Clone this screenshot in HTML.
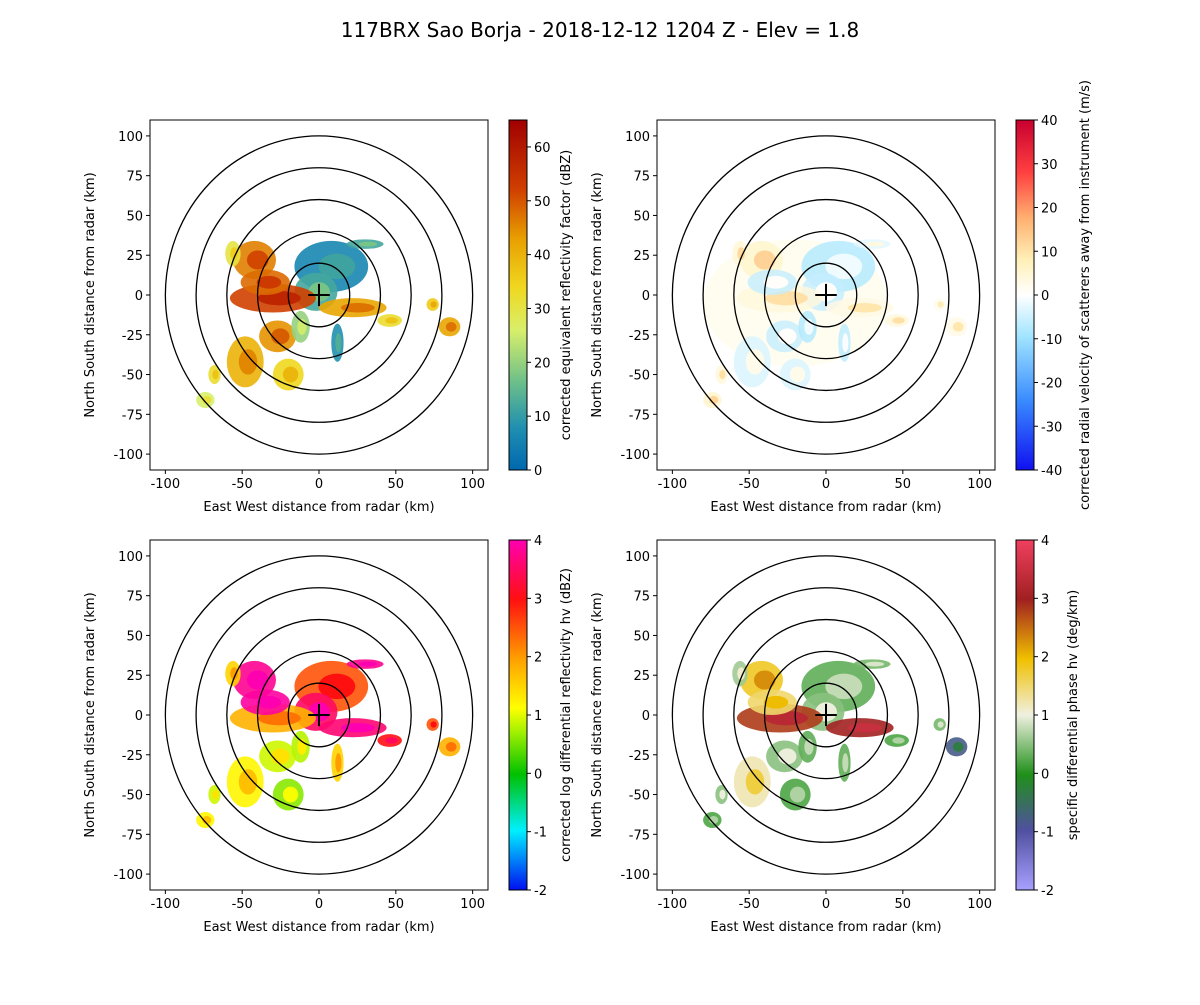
<!DOCTYPE html>
<html><head><meta charset="utf-8"><style>
body{margin:0;background:#fff}
svg text{font-family:"DejaVu Sans","Liberation Sans",sans-serif;fill:#000}
</style></head><body>
<svg id="fig" width="1200" height="1000" viewBox="0 0 1200 1000" xmlns="http://www.w3.org/2000/svg">
<rect width="1200" height="1000" fill="#fff"/>
<text x="600" y="37" font-size="20" text-anchor="middle">117BRX Sao Borja - 2018-12-12 1204 Z -  Elev = 1.8</text>
</svg>
<script>
// echo blob data: x km, y km, rx km, ry km
const blobX=[8,-2,-30,-42,-48,-27,22,-56,-74,-68,85,74,46,-12,30,-35,-20,12];
const blobY=[18,2,-2,22,-42,-26,-8,26,-66,-50,-20,-6,-16,-20,32,8,-50,-30];
const blobRX=[24,14,28,14,12,12,22,5,6,4,7,4,8,6,12,16,10,4];
const blobRY=[16,12,9,12,16,10,6,8,5,6,6,4,4,10,3,8,10,12];
const reflVals=[6,12,52,46,40,44,42,30,26,32,42,36,32,20,12,48,34,8];
const velVals=[-8,-6,4,6,-4,-6,3,5,6,4,3,2,4,-8,-3,-6,-4,-7];
const zdrVals=[2.5,3.5,1.8,3.8,1.2,0.9,3.6,1.5,1.2,0.9,1.8,2.5,3.0,0.8,3.8,3.9,0.6,1.5];
const kdpVals=[0.3,0.5,2.8,1.8,1.2,0.5,3.0,0.6,0.2,0.5,-0.8,0.4,0.2,0.3,0.4,1.5,0.2,0.3];
const xTicks=[-100,-50,0,50,100];
const yTicks=[-100,-75,-50,-25,0,25,50,75,100];
const rings=[20,40,60,80,100];
const reflTicks=[0,10,20,30,40,50,60];
const velTicks=[-40,-30,-20,-10,0,10,20,30,40];
const zdrTicks=[-2,-1,0,1,2,3,4];
const kdpTicks=[-2,-1,0,1,2,3,4];

const NS="http://www.w3.org/2000/svg";
const svg=document.getElementById('fig');
function mk(tag,attrs,parent){const e=document.createElementNS(NS,tag);for(const k in attrs)e.setAttribute(k,attrs[k]);(parent||svg).appendChild(e);return e;}
function hex(c){return [parseInt(c.slice(1,3),16),parseInt(c.slice(3,5),16),parseInt(c.slice(5,7),16)];}
function cmap(stops,t){t=Math.max(0,Math.min(1,t));for(let i=0;i<stops.length-1;i++){const[a,ca]=stops[i],[b,cb]=stops[i+1];if(t<=b){const f=(t-a)/(b-a||1);const A=hex(ca),B=hex(cb);return `rgb(${A.map((v,j)=>Math.round(v+(B[j]-v)*f)).join(',')})`;}}return stops[stops.length-1][1];}
const CM={
refl:[[0,'#0068b0'],[0.12,'#1f8fb0'],[0.25,'#6cbf8a'],[0.4,'#d8ef6a'],[0.52,'#f0d820'],[0.66,'#e8a000'],[0.8,'#d04000'],[1,'#a00000']],
vel:[[0,'#1010f0'],[0.2,'#3a8cff'],[0.38,'#a0e4ff'],[0.5,'#ffffff'],[0.6,'#fff0b8'],[0.72,'#ffb070'],[0.85,'#ff4040'],[1,'#c80030']],
zdr:[[0,'#0010f0'],[0.17,'#00f0ff'],[0.33,'#00c000'],[0.45,'#a0f000'],[0.52,'#ffff00'],[0.66,'#ffa000'],[0.83,'#ff1010'],[1,'#ff00b0']],
kdp:[[0,'#a8a0ff'],[0.17,'#5050a0'],[0.33,'#20901a'],[0.5,'#f0f0e0'],[0.66,'#f0c000'],[0.83,'#a02020'],[1,'#f04060']]
};
const panels=[
 {x0:150,y0:120,cb:'refl',min:0,max:65,ticks:reflTicks,vals:reflVals,label:'corrected equivalent reflectivity factor (dBZ)',n:'reflectivity'},
 {x0:657,y0:120,cb:'vel',min:-40,max:40,ticks:velTicks,vals:velVals,label:'corrected radial velocity of scatterers away from instrument (m/s)',n:'velocity'},
 {x0:150,y0:540,cb:'zdr',min:-2,max:4,ticks:zdrTicks,vals:zdrVals,label:'corrected log differential reflectivity hv (dBZ)',n:'zdr'},
 {x0:657,y0:540,cb:'kdp',min:-2,max:4,ticks:kdpTicks,vals:kdpVals,label:'specific differential phase hv (deg/km)',n:'kdp'}
];
const W=338,H=350;
panels.forEach((p,pi)=>{
 const sx=v=>p.x0+(v+110)/220*W, sy=v=>p.y0+H-(v+110)/220*H;
 const kx=W/220, ky=H/220;
 const g=mk('g',{});  
 const clip='clip'+pi; const cp=mk('clipPath',{id:clip},g); mk('rect',{x:p.x0,y:p.y0,width:W,height:H},cp);
 const dg=mk('g',{'clip-path':`url(#${clip})`},g);
 if(p.cb==='vel'){
  const e=mk('ellipse',{cx:sx(-20),cy:sy(-5),rx:60*kx,ry:40*ky,fill:cmap(CM.vel,(3-p.min)/(p.max-p.min)),opacity:0.55},dg);
   
 }
 blobX.forEach((bx,i)=>{
  const t=(p.vals[i]-p.min)/(p.max-p.min);
  const e=mk('ellipse',{cx:sx(bx),cy:sy(blobY[i]),rx:blobRX[i]*kx,ry:blobRY[i]*ky,fill:cmap(CM[p.cb],t),opacity:p.cb==='vel'?0.8:0.9},dg);
   
  const e2=mk('ellipse',{cx:sx(bx+blobRX[i]*0.15),cy:sy(blobY[i]),rx:blobRX[i]*kx*0.5,ry:blobRY[i]*ky*0.5,fill:cmap(CM[p.cb],t+0.08)},dg);
   
 });
 rings.forEach(r=>{const e=mk('ellipse',{cx:sx(0),cy:sy(0),rx:r*kx,ry:r*ky,fill:'none',stroke:'#000','stroke-width':1.3},dg);
   });
 mk('path',{d:`M${sx(-7)} ${sy(0)}H${sx(7)}M${sx(0)} ${sy(-7)}V${sy(7)}`,stroke:'#000','stroke-width':2},dg);
 const fr=mk('rect',{x:p.x0,y:p.y0,width:W,height:H,fill:'none',stroke:'#000','stroke-width':1},g);
  
 xTicks.forEach(v=>{mk('line',{x1:sx(v),x2:sx(v),y1:p.y0+H,y2:p.y0+H+4,stroke:'#000'},g);
  const t=mk('text',{x:sx(v),y:p.y0+H+18,'font-size':13,'text-anchor':'middle'},g);t.textContent=v;
   });
 yTicks.forEach(v=>{mk('line',{x1:p.x0-4,x2:p.x0,y1:sy(v),y2:sy(v),stroke:'#000'},g);
  const t=mk('text',{x:p.x0-7,y:sy(v)+5,'font-size':13,'text-anchor':'end'},g);t.textContent=v;
   });
 const xl=mk('text',{x:p.x0+W/2,y:p.y0+H+41,'font-size':13,'text-anchor':'middle'},g);xl.textContent='East West distance from radar (km)';
  
 const yl=mk('text',{x:0,y:0,'font-size':13,'text-anchor':'middle',transform:`translate(${p.x0-56},${p.y0+H/2}) rotate(-90)`},g);yl.textContent='North South distance from radar (km)';
  
 const cx=p.x0+359, cw=18;
 const gid='grad'+pi; const lg=mk('linearGradient',{id:gid,x1:0,y1:1,x2:0,y2:0},g);
 CM[p.cb].forEach(([o,c])=>mk('stop',{offset:o,'stop-color':c},lg));
 const cb=mk('rect',{x:cx,y:p.y0,width:cw,height:H,fill:`url(#${gid})`,stroke:'#000','stroke-width':1},g);
  
 p.ticks.forEach(v=>{const y=p.y0+H-(v-p.min)/(p.max-p.min)*H;
  mk('line',{x1:cx+cw,x2:cx+cw+4,y1:y,y2:y,stroke:'#000'},g);
  const t=mk('text',{x:cx+cw+7,y:y+5,'font-size':13},g);t.textContent=v;
   });
 const cl=mk('text',{x:0,y:0,'font-size':13,'text-anchor':'middle',transform:`translate(${cx+cw+(p.cb==='vel'?55:43)},${p.y0+H/2}) rotate(-90)`},g);cl.textContent=p.label;
  
});
</script>
</body></html>
